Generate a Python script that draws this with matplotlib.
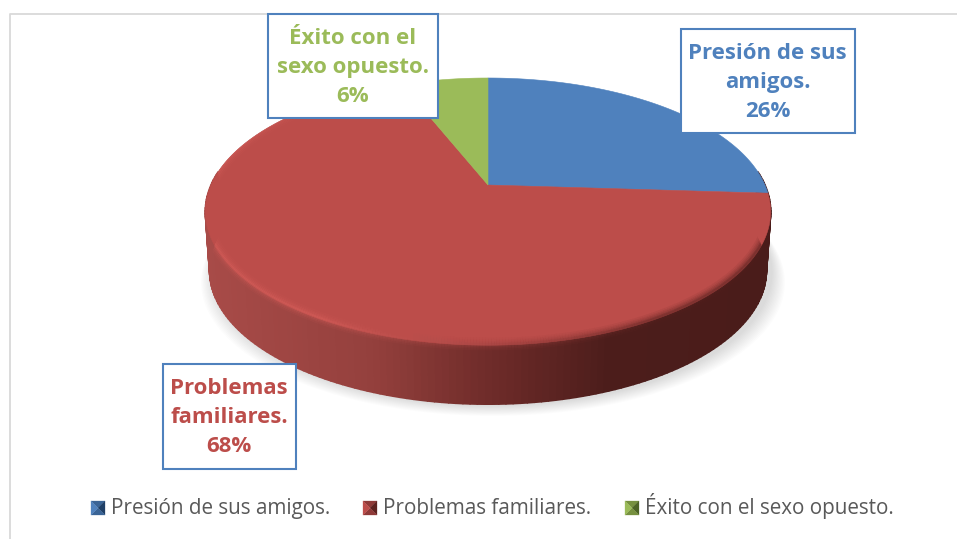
import numpy as np
import matplotlib
matplotlib.use("Agg")
import matplotlib.pyplot as plt
from matplotlib.collections import LineCollection, PolyCollection
from matplotlib.colors import LinearSegmentedColormap
from matplotlib.patches import Polygon, Rectangle

categorias = ["Presión de sus amigos.", "Problemas familiares.", "Éxito con el sexo opuesto."]
valores = [26, 68, 6]
etiquetas = ["Presión de sus\namigos.\n26%", "Problemas\nfamiliares.\n68%", "Éxito con el\nsexo opuesto.\n6%"]
colores = ["#4f81bd", "#bc4d4a", "#9bbb59"]
medios = ["#3a6496", "#8f3a38", "#76903f"]
oscuros = ["#1f3f66", "#5e2220", "#4c6325"]

plt.rcParams["font.family"] = ["Open Sans", "DejaVu Sans"]

fig = plt.figure(figsize=(9.57, 5.39), dpi=100)
ax = fig.add_axes([0, 0, 1, 1])
ax.set_xlim(0, 957)
ax.set_ylim(539, 0)
ax.axis("off")

# frame, only top and left show in the picture
ax.plot([9.5, 9.5, 957], [539, 13.5, 13.5], color="#d9d9d9", lw=1.3, zorder=1)

# perspective circle -> screen, apex is not the middle of the ellipse
cx, cy, rx, ry, k = 488, 185, 277, 128.3, 0.199
depth = 59


def punto(theta, escala=1.0, bajar=0.0):
    u, v = np.sin(theta), np.cos(theta)
    w = 1 + k * v
    return cx + escala * rx * u / w, cy + bajar - ry * v / w


# soft shadow
for i in range(12):
    t = np.linspace(0, 2 * np.pi, 240)
    sx, sy = punto(t, 0.985 + 0.004 * (12 - i), depth + 1 + 0.9 * (12 - i))
    ax.add_patch(Polygon(np.c_[sx + 5, sy], fc="#000000", ec="none", alpha=0.012, zorder=2))

# wall
pared = LinearSegmentedColormap.from_list(
    "pared", [(0, "#a84b48"), (0.3, "#94403d"), (0.5, "#702c2a"), (0.72, "#4c1d1b"), (1, "#4a1c1a")]
)
t = np.linspace(np.radians(84), np.radians(276), 160)
xa, ya = punto(t)
xb, yb = punto(t, 0.985, depth)
quads = [[(xa[i], ya[i]), (xa[i + 1], ya[i + 1]), (xb[i + 1], yb[i + 1]), (xb[i], yb[i])] for i in range(len(t) - 1)]
tonos = (xa[:-1] - xa.min()) / (xa.max() - xa.min())
ax.add_collection(PolyCollection(quads, facecolors=pared(tonos), edgecolors=pared(tonos), linewidths=1.2, zorder=3))

# top face, slices from the values, clockwise from 12 o'clock
inicio = 0.0
for valor, color in zip(valores, colores):
    fin = inicio + valor / sum(valores) * 2 * np.pi
    t = np.linspace(inicio, fin, 200)
    px, py = punto(t)
    ax.add_patch(Polygon(np.r_[[(cx, cy)], np.c_[px, py]], fc=color, ec=color, lw=0.4, zorder=4))
    inicio = fin

# outline of the whole disc, keeps the bevel from spilling out
t_sup = np.linspace(np.radians(-84), np.radians(84), 200)
t_inf = np.linspace(np.radians(84), np.radians(276), 300)
arriba = np.c_[punto(t_sup)]
abajo = np.c_[punto(t_inf, 0.985, depth)]
silueta = Polygon(np.r_[arriba, abajo], fc="none", ec="none", transform=ax.transData)

# bevel along the red edge, stacked soft strokes right on the edge
inicio_rojo = valores[0] / sum(valores) * 2 * np.pi
fin_rojo = (valores[0] + valores[1]) / sum(valores) * 2 * np.pi
t = np.linspace(inicio_rojo + 0.04, fin_rojo, 500)
bisel = LinearSegmentedColormap.from_list(
    "bisel", [(0, "#8a3533"), (0.08, "#5a2422"), (0.22, "#5e2523"), (0.35, "#a84644"), (0.47, "#d8605c"), (0.8, "#d4605c"), (1, "#c55350")]
)
bx, by = punto(t, 0.997)
by = by - 1
seg = np.stack([np.c_[bx[:-1], by[:-1]], np.c_[bx[1:], by[1:]]], axis=1)
for ancho, alfa in [(9, 0.09), (6.5, 0.12), (4.5, 0.16), (2.5, 0.22), (1.2, 0.3)]:
    lc = LineCollection(seg, colors=bisel(np.linspace(0, 1, len(seg))), linewidths=ancho,
                        alpha=alfa, capstyle="butt", zorder=5)
    ax.add_collection(lc)
    lc.set_clip_path(silueta)

# label boxes
cajas = [(680.5, 28.5, 174, 104.5), (162.5, 363.5, 133.5, 105.5), (267.5, 13.5, 170.5, 104.5)]
for (x0, y0, w0, h0), texto, color in zip(cajas, etiquetas, colores):
    ax.add_patch(Rectangle((x0, y0), w0, h0, fc="white", ec="#4f81bd", lw=1.5, zorder=6))
    ax.text(x0 + w0 / 2, y0 + h0 / 2 + 1.5, texto, color=color, fontsize=16, fontweight="bold",
            ha="center", va="center", linespacing=1.5, zorder=7)

# legend, swatches have pyramid shading
ley_x = [91, 363, 625]
for x0, nombre, color, medio, oscuro in zip(ley_x, categorias, colores, medios, oscuros):
    y0, lado = 501, 14
    mx, my = x0 + lado / 2, y0 + lado / 2
    esquinas = [(x0, y0), (x0 + lado, y0), (x0 + lado, y0 + lado), (x0, y0 + lado)]
    caras = [medio, oscuro, medio, color]
    for i, cara in enumerate(caras):
        ax.add_patch(Polygon([esquinas[i], esquinas[(i + 1) % 4], (mx, my)], fc=cara, ec=cara, lw=0.2, zorder=6))
    ax.text(x0 + lado + 6, 514, nombre, color="#595959", fontsize=14.9, ha="left", va="baseline", zorder=7)

fig.savefig("out.png", dpi=100)
